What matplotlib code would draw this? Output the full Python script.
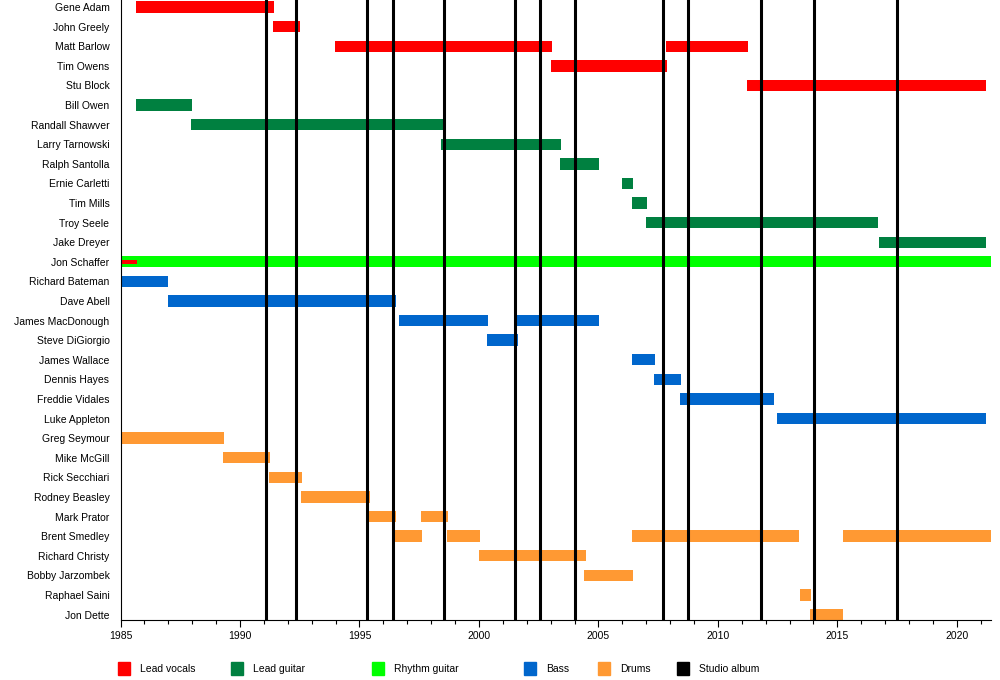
import matplotlib
matplotlib.use('Agg')
import matplotlib.pyplot as plt
from matplotlib.patches import Rectangle
from matplotlib.ticker import MultipleLocator

plt.rcParams['font.family'] = ['Liberation Sans', 'DejaVu Sans']

members = [
    "Gene Adam", "John Greely", "Matt Barlow", "Tim Owens", "Stu Block",
    "Bill Owen", "Randall Shawver", "Larry Tarnowski", "Ralph Santolla",
    "Ernie Carletti", "Tim Mills", "Troy Seele", "Jake Dreyer", "Jon Schaffer",
    "Richard Bateman", "Dave Abell", "James MacDonough", "Steve DiGiorgio",
    "James Wallace", "Dennis Hayes", "Freddie Vidales", "Luke Appleton",
    "Greg Seymour", "Mike McGill", "Rick Secchiari", "Rodney Beasley",
    "Mark Prator", "Brent Smedley", "Richard Christy", "Bobby Jarzombek",
    "Raphael Saini", "Jon Dette",
]

vocals = [
    ("Gene Adam", 1985.63, 1991.44),
    ("John Greely", 1991.40, 1992.53),
    ("Matt Barlow", 1993.99, 2003.07),
    ("Matt Barlow", 2007.84, 2011.27),
    ("Tim Owens", 2003.03, 2007.88),
    ("Stu Block", 2011.22, 2021.22),
]
lead_guitar = [
    ("Bill Owen", 1985.63, 1988.01),
    ("Randall Shawver", 1987.97, 1998.48),
    ("Larry Tarnowski", 1998.43, 2003.44),
    ("Ralph Santolla", 2003.40, 2005.03),
    ("Ernie Carletti", 2006.00, 2006.46),
    ("Tim Mills", 2006.41, 2007.04),
    ("Troy Seele", 2007.00, 2016.70),
    ("Jake Dreyer", 2016.74, 2021.22),
]
rhythm_guitar = [
    ("Jon Schaffer", 1985.00, 2021.43),
]
# Schaffer also sang lead vocals briefly at the start (thin bar)
schaffer_vocals = [
    ("Jon Schaffer", 1985.00, 1985.67),
]
bass = [
    ("Richard Bateman", 1985.00, 1987.00),
    ("Dave Abell", 1986.97, 1996.54),
    ("James MacDonough", 1996.67, 2000.39),
    ("James MacDonough", 2001.60, 2005.03),
    ("Steve DiGiorgio", 2000.35, 2001.65),
    ("James Wallace", 2006.41, 2007.37),
    ("Dennis Hayes", 2007.33, 2008.46),
    ("Freddie Vidales", 2008.42, 2012.35),
    ("Luke Appleton", 2012.48, 2021.22),
]
drums = [
    ("Greg Seymour", 1985.00, 1989.35),
    ("Mike McGill", 1989.31, 1991.27),
    ("Rick Secchiari", 1991.23, 1992.61),
    ("Rodney Beasley", 1992.57, 1995.46),
    ("Mark Prator", 1995.41, 1996.54),
    ("Mark Prator", 1997.59, 1998.72),
    ("Brent Smedley", 1996.50, 1997.63),
    ("Brent Smedley", 1998.68, 2000.06),
    ("Brent Smedley", 2006.41, 2013.40),
    ("Brent Smedley", 2015.24, 2021.43),
    ("Richard Christy", 2000.01, 2004.49),
    ("Bobby Jarzombek", 2004.41, 2006.46),
    ("Raphael Saini", 2013.44, 2013.90),
    ("Jon Dette", 2013.86, 2015.24),
]
studio_albums = [1991.08, 1992.33, 1995.30, 1996.39, 1998.52, 2001.49,
                 2002.55, 2004.04, 2007.72, 2008.73, 2011.82, 2014.04, 2017.51]

year_start = 1985
year_end = 2021.43

colors = {
    "Lead vocals": "#ff0000",
    "Lead guitar": "#008040",
    "Rhythm guitar": "#00ff00",
    "Bass": "#0066cc",
    "Drums": "#ff9933",
    "Studio album": "#000000",
}

fig = plt.figure(figsize=(10, 6.8), dpi=100)
ax = fig.add_axes([0.1205, 60 / 680, 0.8705, 620 / 680])

row = {name: i for i, name in enumerate(members)}


def draw(spans, color, height=0.58):
    for name, start, end in spans:
        ax.barh(row[name], end - start, left=start, height=height,
                color=color, edgecolor='none', zorder=2)


draw(vocals, colors["Lead vocals"])
draw(lead_guitar, colors["Lead guitar"])
draw(rhythm_guitar, colors["Rhythm guitar"])
draw(schaffer_vocals, colors["Lead vocals"], height=0.2)
draw(bass, colors["Bass"])
draw(drums, colors["Drums"])

for yr in studio_albums:
    ax.axvline(yr, color='black', lw=2.2, zorder=3)

ax.set_xlim(year_start, year_end)
ax.set_ylim(len(members) - 1 + 0.28, -0.36)
ax.set_yticks(range(len(members)))
ax.set_yticklabels(members, fontsize=7.5)
ax.tick_params(axis='y', length=0, pad=8)
ax.xaxis.set_major_locator(MultipleLocator(5))
ax.xaxis.set_minor_locator(MultipleLocator(1))
ax.tick_params(axis='x', which='major', length=5, width=0.8, labelsize=7.5, pad=3)
ax.tick_params(axis='x', which='minor', length=3, width=0.8)
ax.spines['top'].set_visible(False)
ax.spines['right'].set_visible(False)
ax.spines['left'].set_linewidth(0.8)
ax.spines['bottom'].set_linewidth(0.8)

# legend along the bottom
legend_x = [118, 231, 372, 524, 598, 677]
for (label, color), x in zip(colors.items(), legend_x):
    fig.patches.append(Rectangle((x / 1000, 1 - 675 / 680), 12 / 1000, 13 / 680,
                                 transform=fig.transFigure, color=color))
    fig.text((x + 22) / 1000, 1 - 669 / 680, label, fontsize=7.5, va='center')

fig.savefig('out.png', dpi=100)
